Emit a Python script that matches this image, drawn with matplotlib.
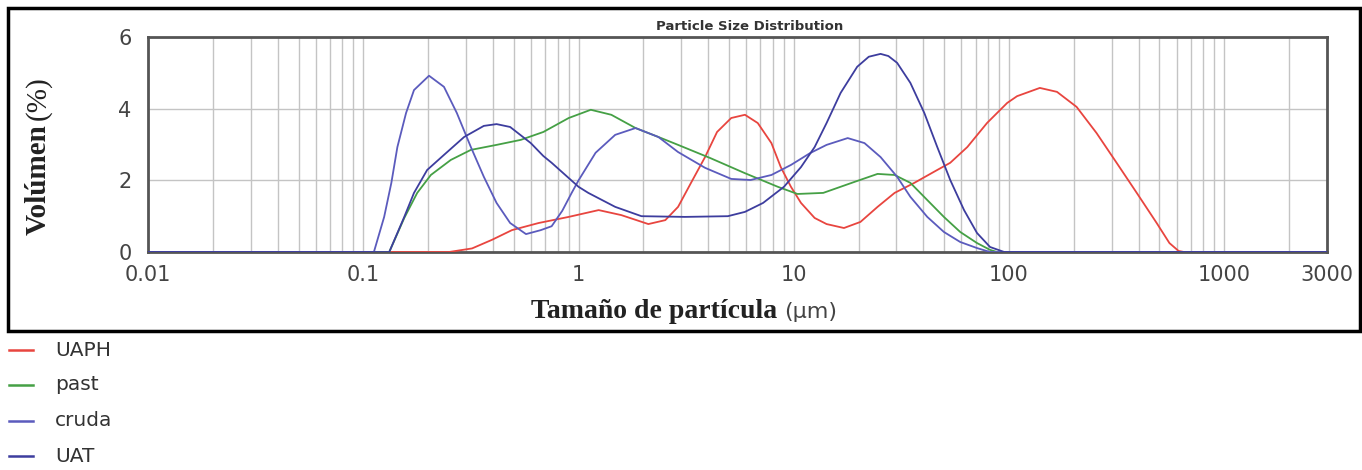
import matplotlib
matplotlib.use("Agg")
import matplotlib.pyplot as plt
import matplotlib.ticker as mticker
from matplotlib.patches import Rectangle
from matplotlib.lines import Line2D

# particle size (um) and volume (%)
uaph_x = [0.01, 0.25, 0.32, 0.396, 0.49, 0.653, 0.9, 1.24, 1.58, 2.11, 2.53, 2.9, 3.33, 3.87, 4.4,
          5.12, 5.93, 6.8, 7.87, 8.7, 9.7, 10.8, 12.5, 14.2, 17.1, 20.4, 24.5, 29.4, 36.3, 46.4, 53.3,
          64, 79, 98, 109, 139, 167, 206, 255, 316, 392, 485, 556, 613, 650, 3000]
uaph_y = [0, 0, 0.1, 0.34, 0.61, 0.81, 0.98, 1.17, 1.03, 0.78, 0.89, 1.26, 1.93, 2.65, 3.35,
          3.74, 3.83, 3.6, 3.04, 2.37, 1.82, 1.37, 0.95, 0.78, 0.67, 0.84, 1.26, 1.65, 1.93, 2.29, 2.49,
          2.93, 3.6, 4.16, 4.35, 4.58, 4.47, 4.05, 3.32, 2.49, 1.65, 0.81, 0.25, 0.03, 0, 0]

past_x = [0.01, 0.132, 0.155, 0.178, 0.206, 0.255, 0.316, 0.416, 0.539, 0.686, 0.9, 1.14, 1.42, 1.84,
          2.42, 2.9, 4.1, 5.93, 8.43, 10.4, 13.7, 19.2, 24.5, 29.4, 34.8, 41.7, 49.8, 59.3, 71, 81.6,
          88, 3000]
past_y = [0, 0, 0.95, 1.65, 2.15, 2.57, 2.85, 2.99, 3.13, 3.35, 3.74, 3.97, 3.83, 3.46,
          3.18, 2.99, 2.62, 2.2, 1.82, 1.62, 1.65, 1.96, 2.18, 2.15, 1.93, 1.45, 0.98, 0.56, 0.25, 0.06,
          0, 0]

cruda_x = [0.01, 0.112, 0.125, 0.135, 0.144, 0.158, 0.172, 0.202, 0.237, 0.272, 0.316, 0.363, 0.416,
           0.481, 0.57, 0.667, 0.75, 0.84, 0.929, 1.0, 1.2, 1.48, 1.84, 2.35, 2.9, 3.87, 5.12, 6.3,
           7.87, 9.7, 11.9, 14.2, 17.8, 21.3, 25.3, 30.2, 34.8, 41.7, 49.8, 59.3, 71, 81.6, 3000]
cruda_y = [0, 0, 0.98, 1.93, 2.93, 3.88, 4.52, 4.92, 4.61, 3.88, 2.93, 2.1, 1.37,
           0.81, 0.5, 0.61, 0.72, 1.15, 1.65, 2.0, 2.77, 3.27, 3.46, 3.21, 2.79, 2.35, 2.04, 2.01,
           2.15, 2.43, 2.76, 2.99, 3.18, 3.04, 2.65, 2.1, 1.54, 0.98, 0.56, 0.28, 0.11, 0, 0]

uat_x = [0.01, 0.132, 0.155, 0.172, 0.198, 0.237, 0.294, 0.363, 0.416, 0.481, 0.6, 0.686, 0.75, 1.0,
         1.11, 1.48, 1.96, 3.12, 4.94, 5.93, 7.2, 9.0, 10.8, 12.5, 14.2, 16.5, 19.7, 22.3, 25.3, 27.5,
         30.2, 34.8, 40.4, 46.4, 53.3, 61.8, 71, 81.6, 95, 3000]
uat_y = [0, 0, 0.98, 1.65, 2.29, 2.71, 3.21, 3.52, 3.57, 3.49, 3.04, 2.68, 2.49, 1.82,
         1.65, 1.26, 1.0, 0.98, 1.0, 1.12, 1.37, 1.82, 2.37, 2.93, 3.6, 4.44, 5.17, 5.45, 5.53, 5.47,
         5.28, 4.72, 3.88, 2.93, 2.01, 1.17, 0.53, 0.14, 0, 0]

x_ticks = [0.01, 0.1, 1, 10, 100, 1000, 3000]
x_tick_labels = ["0.01", "0.1", "1", "10", "100", "1000", "3000"]
y_ticks = [0, 2, 4, 6]

series = [
    ("UAPH", uaph_x, uaph_y, "#e8453f"),
    ("past", past_x, past_y, "#45a045"),
    ("cruda", cruda_x, cruda_y, "#5b5bbd"),
    ("UAT", uat_x, uat_y, "#3d3d9e"),
]

fig = plt.figure(figsize=(13.62, 4.70), dpi=100)
ax = fig.add_axes([0.1087, 0.4638, 0.8656, 0.4574])

for name, xs, ys, col in series:
    ax.plot(xs, ys, color=col, lw=1.3, label=name, zorder=5, solid_joinstyle="round")

ax.set_xscale("log")
ax.set_xlim(0.01, 3000)
ax.set_ylim(0, 6)
ax.xaxis.set_major_locator(mticker.FixedLocator(x_ticks))
ax.xaxis.set_major_formatter(mticker.FixedFormatter(x_tick_labels))
ax.xaxis.set_minor_locator(mticker.LogLocator(base=10, subs=range(2, 10), numticks=20))
ax.xaxis.set_minor_formatter(mticker.NullFormatter())
ax.set_yticks(y_ticks)

ax.grid(True, which="both", axis="x", color="#c4c4c4", lw=1.0)
ax.grid(True, which="major", axis="y", color="#c4c4c4", lw=1.0)
ax.tick_params(which="both", length=0)
ax.tick_params(axis="x", pad=9, labelsize=15, colors="#444444")
ax.tick_params(axis="y", pad=12, labelsize=15, colors="#444444")
for sp in ax.spines.values():
    sp.set_color("#555555")
    sp.set_linewidth(2)

# title
fig.text(750 / 1362, 1 - 27 / 470, "Particle Size Distribution", ha="center", va="center",
         fontsize=9.5, fontweight="bold", color="#333333")

# axis labels (serif bold + unit)
fig.text(38 / 1362, 1 - 124 / 470, "Volúmen", rotation=90, ha="center", va="top",
         family="Liberation Serif", fontweight="bold", fontsize=21, color="#222222")
fig.text(38 / 1362, 1 - 120 / 470, "(%)", rotation=90, ha="center", va="bottom",
         family="Liberation Serif", fontsize=21, color="#222222")
fig.text(777 / 1362, 1 - 312 / 470, "Tamaño de partícula", ha="right", va="center",
         family="Liberation Serif", fontweight="bold", fontsize=20, color="#222222")
fig.text(784 / 1362, 1 - 312 / 470, "(μm)", ha="left", va="center",
         fontsize=16, color="#444444")

# outer frame
fig.patches.append(Rectangle((8 / 1362, 1 - 331 / 470), 1352 / 1362, 323 / 470,
                             transform=fig.transFigure, fill=False, ec="black", lw=2.5))

# legend below the frame
leg_y = [350, 385, 421, 456]
for (name, xs, ys, col), yp in zip(series, leg_y):
    yf = 1 - yp / 470
    fig.lines.append(Line2D([9 / 1362, 33 / 1362], [yf, yf], transform=fig.transFigure,
                            color=col, lw=1.8))
    fig.text(55 / 1362, yf, name, ha="left", va="center", fontsize=14.5, color="#333333")

fig.savefig("out.png", dpi=100)
